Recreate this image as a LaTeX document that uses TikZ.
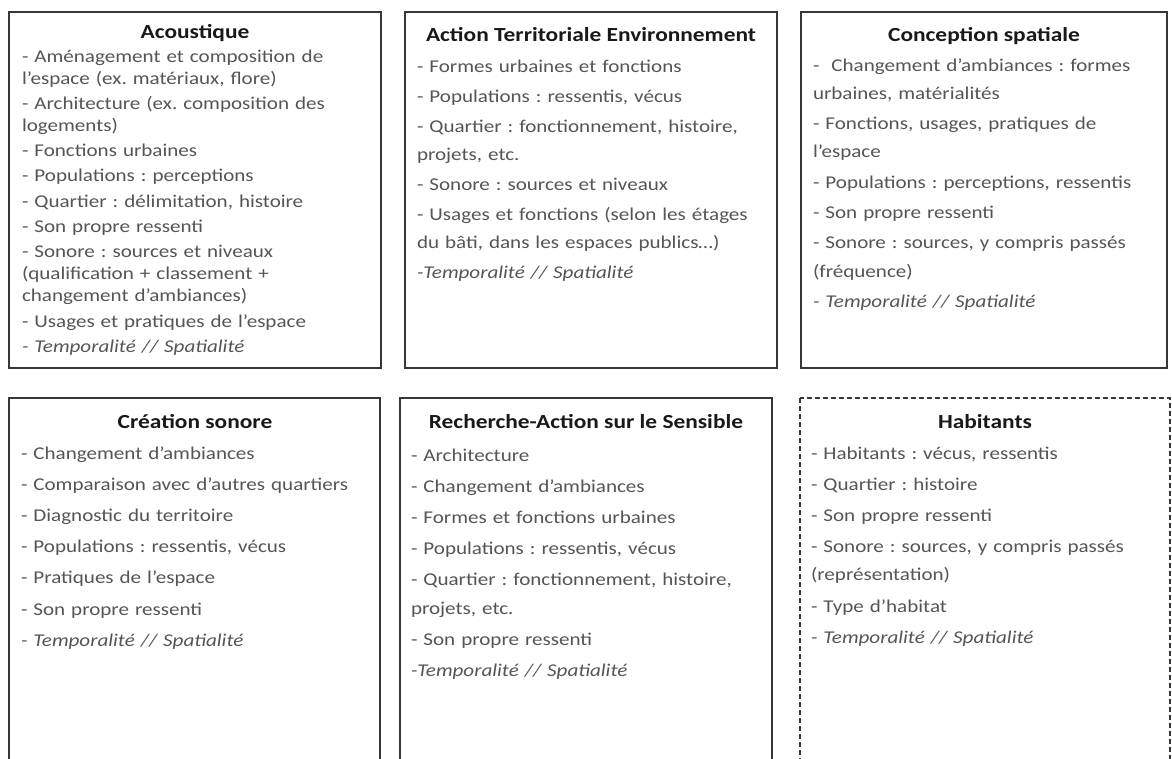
\documentclass[tikz,border=0pt]{standalone}
\usepackage{fontspec}
\setmainfont{Carlito}[FakeStretch=1.17]
\usetikzlibrary{positioning}
\definecolor{txtgrey}{RGB}{85,85,85}
\definecolor{framegrey}{RGB}{55,55,55}
\frenchspacing

\begin{document}
\begin{tikzpicture}[x=1pt, y=-1pt, inner sep=0pt, outer sep=0pt,
      frame/.style={draw=framegrey, line width=1.1pt},
      dframe/.style={frame, dash pattern=on 5pt off 3pt},
      title/.style={anchor=base, font=\fontsize{20}{24}\selectfont\bfseries, text=black!90},
      body/.style={anchor=base west, align=left, text width=380pt, text=txtgrey,
        font=\fontsize{18}{28.3}\selectfont},
      tight/.style={body, font=\fontsize{18}{22}\selectfont}]
      \clip (0,0) rectangle (1172,758);
      \fill[white] (0,0) rectangle (1172,758);
      % top row: acoustique, ate, conception
      \draw[frame] (9,12) rectangle (381,368);
      \node[title] (acou_t) at (195,38.5) {Acoustique};
      \node[tight] (acou) at (22,62) {- Aménagement et composition de\\
        l’espace (ex. matériaux, flore)\\[3.3pt]
        - Architecture (ex. composition des\\ logements)\\[3.3pt]
        - Fonctions urbaines\\[3.3pt]
        - Populations : perceptions\\[3.3pt]
        - Quartier : délimitation, histoire\\[3.3pt]
        - Son propre ressenti\\[3.3pt]
        - Sonore : sources et niveaux\\ (qualification + classement +\\
        changement d’ambiances)\\[3.3pt]
        - Usages et pratiques de l’espace\\[3.3pt]
        \textit{- Temporalité // Spatialité}};
      \draw[frame] (405,12) rectangle (777,368);
      \node[title] (ate_t) at (591,41) {Action Territoriale Environnement};
      \node[body] (ate) at (417,72) {- Formes urbaines et fonctions\\[1.7pt]
        - Populations : ressentis, vécus\\[1.7pt]
        - Quartier : fonctionnement, histoire,\\ projets, etc.\\[1.7pt]
        - Sonore : sources et niveaux\\[1.7pt]
        - Usages et fonctions (selon les étages\\
        du bâti, dans les espaces publics…)\\[1.7pt]
        \textit{-Temporalité // Spatialité}};
      \draw[frame] (801,12) rectangle (1167,368);
      \node[title] (concep_t) at (984,41.5) {Conception spatiale};
      \node[body] (concep) at (813,71) {-\ \ Changement d’ambiances : formes\\
        urbaines, matérialités\\[2pt]
        - Fonctions, usages, pratiques de\\ l’espace\\[2pt]
        - Populations : perceptions, ressentis\\[2pt]
        - Son propre ressenti\\[2pt]
        - Sonore : sources, y compris passés\\ (fréquence)\\[2pt]
        \textit{- Temporalité // Spatialité}};
      % bottom row: creation, recherche, habitants
      \draw[frame] (9,398) rectangle (380,790);
      \node[title] (crea_t) at (195,428.5) {Création sonore};
      \node[body] (crea) at (21,459) {- Changement d’ambiances\\[2.9pt]
        - Comparaison avec d’autres quartiers\\[2.9pt]
        - Diagnostic du territoire\\[2.9pt]
        - Populations : ressentis, vécus\\[2.9pt]
        - Pratiques de l’espace\\[2.9pt]
        - Son propre ressenti\\[2.9pt]
        \textit{- Temporalité // Spatialité}};
      \draw[frame] (400,398) rectangle (772,790);
      \node[title] (rass_t) at (586,428.5) {Recherche-Action sur le Sensible};
      \node[body] (rass) at (411,461) {- Architecture\\[2.9pt]
        - Changement d’ambiances\\[2.9pt]
        - Formes et fonctions urbaines\\[2.9pt]
        - Populations : ressentis, vécus\\[2.9pt]
        - Quartier : fonctionnement, histoire,\\ projets, etc.\\[2.9pt]
        - Son propre ressenti\\[2.9pt]
        \textit{-Temporalité // Spatialité}};
      \draw[dframe] (800,398) rectangle (1170,790);
      \node[title] (hab_t) at (985,428.5) {Habitants};
      \node[body] (hab) at (811,459) {- Habitants : vécus, ressentis\\[2.9pt]
        - Quartier : histoire\\[2.9pt]
        - Son propre ressenti\\[2.9pt]
        - Sonore : sources, y compris passés\\ (représentation)\\[2.9pt]
        - Type d’habitat\\[2.9pt]
        \textit{- Temporalité // Spatialité}};
\end{tikzpicture}
\end{document}
